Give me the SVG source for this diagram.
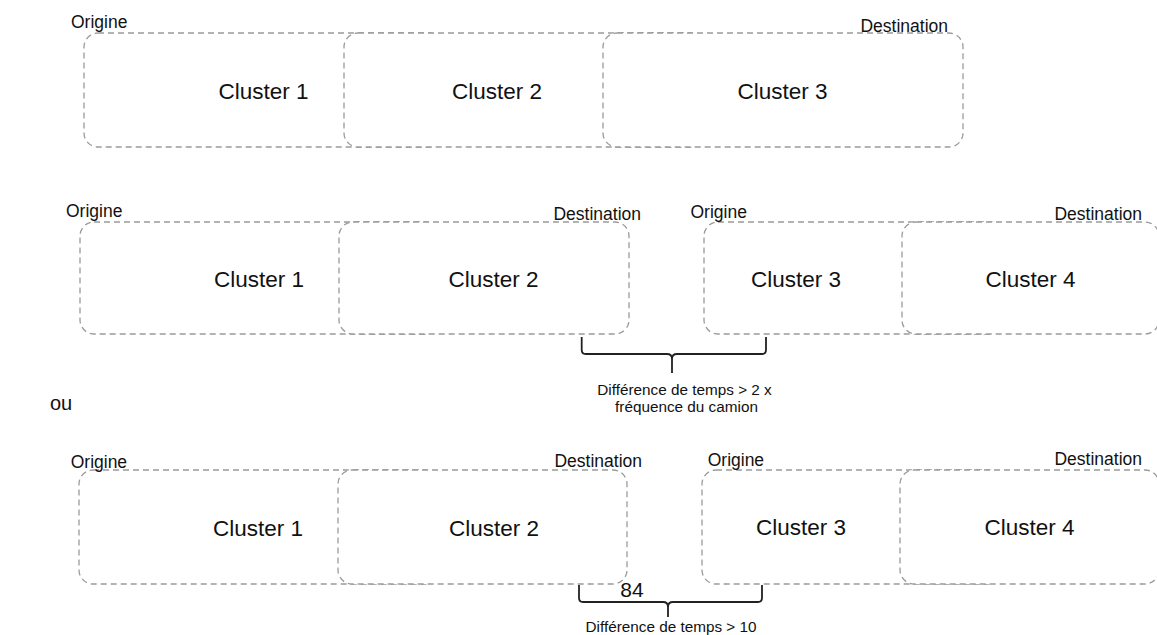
<svg xmlns="http://www.w3.org/2000/svg" width="1157" height="635" viewBox="0 0 1157 635">
<style>
.box{fill:#fff;stroke:#9a9a9a;stroke-width:1.3;stroke-dasharray:6 4}
.cl{font-family:"Liberation Sans",Arial,sans-serif;font-size:22.5px;fill:#111;text-anchor:middle}
.lb{font-family:"Liberation Sans",Arial,sans-serif;font-size:17.5px;fill:#111}
.sm{font-family:"Liberation Sans",Arial,sans-serif;font-size:15.3px;fill:#111;text-anchor:middle}
.br{fill:none;stroke:#222;stroke-width:1.8}
</style>
<rect width="1157" height="635" fill="#fff"/>
<!-- Row 1 -->
<g id="r1-cluster1"><rect class="box" x="84" y="33" width="360" height="114" rx="14"/><text class="cl" x="263.5" y="99">Cluster 1</text></g>
<g id="r1-cluster2"><rect class="box" x="344" y="33" width="360" height="114" rx="14"/><text class="cl" x="497" y="99">Cluster 2</text></g>
<g id="r1-cluster3"><rect class="box" x="603" y="33" width="360" height="114" rx="14"/><text class="cl" x="782.5" y="99">Cluster 3</text></g>
<g id="r1-labels"><text class="lb" x="71" y="27.5">Origine</text><text class="lb" x="948" y="31.5" text-anchor="end">Destination</text></g>
<!-- Row 2 -->
<g id="r2-cluster1"><rect class="box" x="80" y="222" width="360" height="112" rx="14"/><text class="cl" x="259" y="287">Cluster 1</text></g>
<g id="r2-cluster2"><rect class="box" x="339" y="222" width="290" height="112" rx="14"/><text class="cl" x="493.5" y="287">Cluster 2</text></g>
<g id="r2-cluster3"><rect class="box" x="704" y="222" width="300" height="112" rx="14"/><text class="cl" x="796" y="287">Cluster 3</text></g>
<g id="r2-cluster4"><rect class="box" x="902" y="222" width="257" height="112" rx="14"/><text class="cl" x="1030.5" y="287">Cluster 4</text></g>
<g id="r2-labels"><text class="lb" x="66" y="217">Origine</text><text class="lb" x="641" y="220" text-anchor="end">Destination</text><text class="lb" x="690.5" y="218">Origine</text><text class="lb" x="1142" y="220" text-anchor="end">Destination</text></g>
<!-- ou -->
<text id="ou" class="lb" x="50" y="410" style="font-size:20px">ou</text>
<!-- Row 3 -->
<g id="r3-cluster1"><rect class="box" x="79" y="470" width="360" height="114" rx="14"/><text class="cl" x="258" y="536">Cluster 1</text></g>
<g id="r3-cluster2"><rect class="box" x="338" y="470" width="289" height="114" rx="14"/><text class="cl" x="494" y="536">Cluster 2</text></g>
<g id="r3-cluster3"><rect class="box" x="702" y="470" width="300" height="114" rx="14"/><text class="cl" x="801" y="535">Cluster 3</text></g>
<g id="r3-cluster4"><rect class="box" x="900" y="470" width="259" height="114" rx="14"/><text class="cl" x="1029.5" y="535">Cluster 4</text></g>
<g id="r3-labels"><text class="lb" x="70.7" y="467.5">Origine</text><text class="lb" x="642" y="466.5" text-anchor="end">Destination</text><text class="lb" x="707.7" y="466">Origine</text><text class="lb" x="1142" y="465" text-anchor="end">Destination</text></g>
<!-- Connectors (braces) -->
<g id="connectors">
<path class="br" d="M581.7 337 V350 Q581.7 354 585.7 354 H667 Q672 354 672 359 V373 M766 337 V350 Q766 354 762 354 H677 Q672 354 672 359"/>
<path class="br" d="M579 585 V598 Q579 602 583 602 H663 Q668 602 668 607 V617 M762 585 V598 Q762 602 758 602 H673 Q668 602 668 607"/>
</g>
<g id="brace-labels">
<text class="sm" x="684.5" y="395">Différence de temps &gt; 2 x</text>
<text class="sm" x="686.5" y="411.7">fréquence du camion</text>
<text class="cl" x="632" y="597" style="font-size:21px">84</text>
<text class="sm" x="671" y="632">Différence de temps &gt; 10</text>
</g>
</svg>
